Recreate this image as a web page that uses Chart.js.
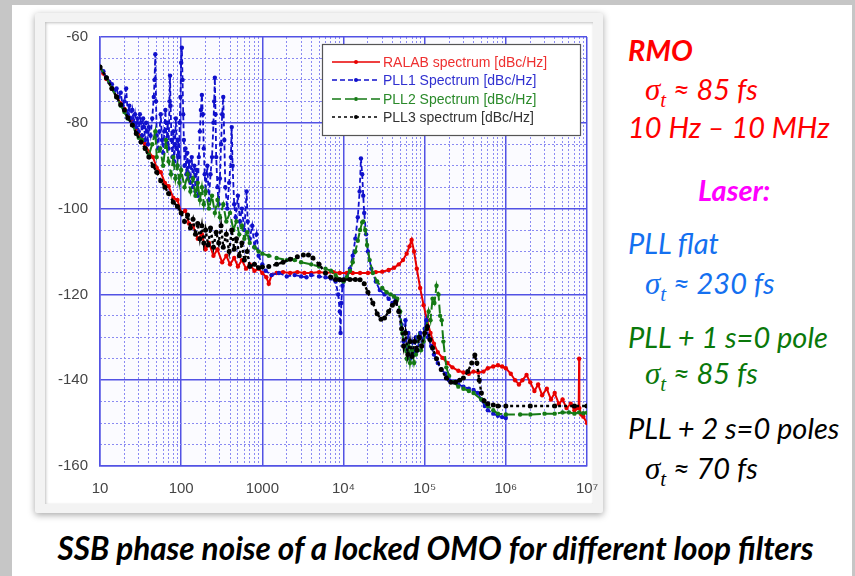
<!DOCTYPE html>
<html><head><meta charset="utf-8">
<script src="https://cdn.jsdelivr.net/npm/chart.js@4"></script>
<style>
html,body{margin:0;padding:0;}
body{width:855px;height:576px;position:relative;overflow:hidden;background:#fff;}
#bgTop{position:absolute;left:0;top:0;width:855px;height:5px;background:#c6c6c6;}
#bgLeft{position:absolute;left:0;top:0;width:12px;height:576px;background:#c6c6c6;}
#bgRight{position:absolute;right:0;top:0;width:3px;height:576px;background:#c6c6c6;}
#card{position:absolute;left:35px;top:13px;width:568px;height:500px;background:#f3f3f3;box-shadow:0 2px 7px rgba(0,0,0,0.35);border-radius:2px;}
#inner{position:absolute;left:45px;top:22px;width:548px;height:482px;background:#fff;box-shadow:inset 1px 1px 3px rgba(0,0,0,0.25);}
#chartBox{position:absolute;left:45px;top:22px;width:562px;height:482px;}
.note{position:absolute;font-family:Lato,'Open Sans',sans-serif;font-style:italic;font-size:29px;white-space:nowrap;line-height:26px;}
.sig{font-family:'Liberation Serif','DejaVu Serif',serif;font-style:italic;font-size:31px;}
.sub{font-family:'Liberation Serif','DejaVu Serif',serif;font-style:italic;font-size:21px;position:relative;top:7px;}
#caption{position:absolute;left:8px;width:855px;top:533px;text-align:center;font-family:Lato,'Open Sans',sans-serif;font-style:italic;font-weight:bold;font-size:31.5px;line-height:30px;color:#000;white-space:nowrap;}
</style>
</head>
<body>
<div id="bgTop"></div><div id="bgLeft"></div><div id="bgRight"></div>
<div id="card"></div>
<div id="inner"></div>
<div id="chartBox"><canvas id="c" width="562" height="482"></canvas></div>

<div class="note" style="left:628px;top:37px;color:#ff0000;font-weight:bold;">RMO</div>
<div class="note" style="left:645px;top:76px;color:#ff0000;"><span class="sig">σ</span><span class="sub">t</span> ≈ 85 fs</div>
<div class="note" style="left:628px;top:114px;color:#ff0000;">10 Hz – 10 MHz</div>
<div class="note" style="left:698px;top:177px;color:#ff00ff;font-weight:bold;">Laser:</div>
<div class="note" style="left:628px;top:230px;color:#1470f0;">PLL flat</div>
<div class="note" style="left:645px;top:270px;color:#1470f0;"><span class="sig">σ</span><span class="sub">t</span> ≈ 230 fs</div>
<div class="note" style="left:628px;top:324px;color:#0a780a;">PLL + 1 s=0 pole</div>
<div class="note" style="left:645px;top:360px;color:#0a780a;"><span class="sig">σ</span><span class="sub">t</span> ≈ 85 fs</div>
<div class="note" style="left:628px;top:415px;color:#000;">PLL + 2 s=0 poles</div>
<div class="note" style="left:645px;top:455px;color:#000;"><span class="sig">σ</span><span class="sub">t</span> ≈ 70 fs</div>
<div id="caption">SSB phase noise of a locked OMO for different loop filters</div>

<script>
// ---- data (frequency in Hz, SSB phase noise in dBc/Hz) ----
const seriesNames = ["RALAB spectrum [dBc/Hz]", "PLL1 Spectrum [dBc/Hz]", "PLL2 Spectrum [dBc/Hz]", "PLL3 spectrum [dBc/Hz]"];

const ralabFreq = [10,11,12,13,14,16,18,20,22,25,28,32,36,40,45,50,56,63,70,80,90,100,112,125,140,160,180,200,220,250,280,320,360,400,450,500,560,630,700,800,900,1000,1120,1200,1300,1500,1800,2200,2700,3300,4000,5000,6000,7500,9000,11000,13000,16000,20000,25000,30000,36000,42000,48000,54000,60000,65000,69000,74000,80000,88000,97000,107000,118000,130000,145000,166000,190000,220000,260000,300000,350000,400000,460000,530000,600000,700000,800000,900000,1000000,1150000,1300000,1450000,1600000,1800000,2000000,2250000,2500000,2800000,3200000,3600000,4000000,4500000,5000000,5600000,6300000,7000000,7500000,7900000,8000000,8050000,8500000,9000000,10000000];
const ralabDb = [-67,-68.5,-69.8,-70.5,-72,-73.8,-75.5,-76.8,-78.3,-79.6,-81.5,-83.2,-85,-86.8,-88,-90.5,-91.5,-94,-94.8,-97.5,-98,-101,-100.5,-103.5,-104,-107,-106,-109.5,-108,-111,-109.5,-112.5,-111,-113,-111.5,-113.5,-112,-114,-113,-114.5,-114,-115,-116,-117.5,-115.5,-115,-114.8,-115,-114.8,-115,-115,-114.8,-115,-114.8,-115,-115,-115,-115,-115,-114.8,-114.7,-114.3,-113.8,-113,-112,-110.5,-108.8,-107.3,-110,-114,-118.5,-122.5,-126,-129,-131.5,-133.5,-134.8,-136,-137,-137.8,-138.2,-138.5,-138,-138.2,-138,-137.2,-136.8,-136.5,-136.8,-137.2,-138.5,-140,-141,-140,-138.8,-140.5,-142.5,-141,-143.5,-142,-144.5,-143,-145.5,-144.5,-146.5,-145.5,-147,-146.5,-146.5,-135,-146.5,-148,-148.5,-150];

const pll1Freq = [10,11,12,13,14,15,16,17,18,19,20,21,22,23,24,25,26,27,28,29,30,31,32,33,34,35,36,37,38,39,40,42,44,46,47,48,49,50,52,54,56,58,60,62,64,66,68,70,72,73,74,76,78,80,82,84,86,88,90,92,94,96,98,100,102,104,106,108,110,113,116,119,122,125,130,135,140,145,150,155,160,165,170,175,180,185,190,195,200,210,220,230,240,250,255,260,265,270,280,290,300,310,320,330,340,350,370,390,410,420,430,450,470,500,530,560,600,640,660,700,750,800,850,900,1000,1100,1300,1600,2000,2500,3000,3500,4000,5000,6000,7000,8000,8600,9000,9200,9400,9700,10000,11000,12000,13000,14000,15000,15800,16400,17000,17500,18000,19000,20000,22000,25000,28000,32000,36000,40000,44000,48000,52000,55000,58000,60000,63000,66000,70000,74000,78000,82000,88000,95000,100000,105000,110000,120000,130000,145000,160000,180000,200000,230000,260000,300000,350000,400000,450000,500000,550000,600000,700000,800000,900000,1000000];
const pll1Db = [-67,-68,-69.5,-70.5,-71,-72.5,-72,-74,-73,-76,-75,-72,-78,-76,-79,-77,-80,-78,-81,-79,-82,-78,-80,-83,-79,-81,-84,-80,-82,-85,-81,-83,-79,-74,-70,-64,-75,-83,-86,-82,-78,-84,-87,-82,-77,-85,-80,-86,-75,-69,-76,-84,-88,-82,-89,-85,-79,-86,-90,-84,-88,-80,-74,-66,-62.5,-70,-78,-84,-90,-86,-92,-87,-93,-89,-94,-88,-95,-90,-96,-91,-97,-88,-82,-77,-73.5,-78,-86,-92,-96,-90,-98,-92,-88,-80,-75,-69.5,-78,-88,-95,-99,-93,-85,-78,-74,-84,-95,-100,-94,-88,-81,-90,-99,-102,-97,-103,-100,-105,-96,-103,-107,-104,-109,-106,-111,-113,-114.5,-115.5,-115,-115.8,-115.5,-115.8,-116,-115.5,-115.8,-116,-116.3,-117,-120,-124,-129,-122,-118,-117,-116,-114,-111,-107,-102,-96,-88.3,-92,-97,-101,-106,-110,-114,-117,-119,-120,-121,-122,-121,-124,-127,-131,-126,-133,-129,-135,-131,-134,-130,-133,-129,-131,-128,-126,-130,-132,-134,-136,-137.5,-138.5,-140,-140.5,-141,-141.5,-142,-142.3,-143,-144.5,-146,-147,-147.8,-148.3,-148.6,-148.8];

const pll2Freq = [10,12,14,16,18,20,22,25,28,30,33,36,40,44,48,50,55,60,65,70,75,80,85,90,95,100,110,120,130,140,150,160,170,180,190,200,220,240,260,280,300,330,360,400,440,480,520,560,600,650,700,800,900,1000,1200,1500,2000,2500,3000,4000,5000,6000,7000,8000,9000,10000,11000,12000,13000,14000,15000,16000,17000,17500,18500,19500,21000,23000,26000,30000,34000,38000,42000,46000,50000,53000,56000,60000,63000,66000,70000,74000,78000,84000,90000,97000,105000,112000,118000,125000,132000,140000,148000,155000,162000,170000,185000,200000,230000,260000,300000,350000,400000,500000,600000,700000,800000,1000000,1500000,2000000,3000000,4000000,5000000,6000000,7000000,8000000,9000000,10000000];
const pll2Db = [-67,-69.5,-72,-74,-76,-77.5,-79,-80.5,-82.5,-83.5,-84,-86,-87.5,-85,-82,-88,-86,-90,-84,-89,-92,-88,-93,-90,-94,-91,-95,-92,-96,-93,-97,-94,-98,-95,-99,-96,-100,-97,-101,-98,-102,-99,-103,-101,-105,-103,-106,-104,-107,-105.5,-108,-109,-110,-110.5,-111,-111.5,-112,-112,-112.5,-113,-113.5,-114,-114.5,-115.5,-116.5,-117,-116,-114.5,-112.5,-110,-107.5,-105,-103.2,-103,-105,-108.5,-112,-115,-117,-118.5,-119.5,-120,-120.5,-121,-124,-129,-132,-135,-132,-136,-133,-136,-134,-130,-133,-131,-128,-124,-126,-121,-122,-118,-120,-125,-126,-131,-137,-139,-140.5,-141.5,-142,-142.5,-143,-144.5,-146,-147,-147.8,-148,-148,-148,-147.8,-147.8,-147.5,-147.5,-147.8,-147.5,-147.7,-147.6];

const pll3Freq = [10,12,14,16,18,20,22,25,28,32,36,40,45,50,56,63,70,80,90,100,110,120,130,140,150,160,170,180,190,200,215,230,250,270,290,310,330,360,390,420,450,480,520,560,600,650,700,800,900,1000,1200,1500,1800,2200,2700,3200,3700,4200,5000,6000,7000,8000,9000,10000,12000,14000,16000,18000,20000,23000,26000,29000,32000,36000,40000,44000,48000,52000,55000,58000,62000,66000,70000,75000,80000,86000,92000,100000,108000,116000,125000,140000,160000,185000,210000,240000,270000,300000,340000,380000,415000,440000,470000,500000,540000,600000,700000,800000,1000000,2000000,4000000,7000000,10000000];
const pll3Db = [-67,-69.5,-72,-74,-75.8,-77,-78.8,-80.5,-82.5,-84.5,-86,-88,-90,-91.5,-93.5,-95,-96.5,-98.5,-99.5,-101,-103,-101.5,-104.5,-102.5,-106,-103.5,-107,-104,-108,-105,-108.5,-104.5,-109,-105.5,-108,-104,-109,-106,-110,-105,-109.5,-107,-111,-108,-112,-110,-113.5,-113,-113.8,-113.6,-113.5,-113,-112.5,-111.8,-111.2,-110.8,-110.8,-111.5,-113,-115,-116,-116.5,-116.6,-116.6,-116.5,-116.5,-116.6,-117.5,-119.5,-122,-124.5,-125.8,-125.5,-124,-122.5,-121.8,-124,-128,-132,-129,-134,-131,-134.5,-131,-133,-130,-132,-129,-127.5,-130.5,-132.5,-135,-137.5,-139.5,-140.5,-140.5,-140,-139.5,-138,-136,-134.1,-136,-140,-143,-144.8,-145.5,-145.8,-146,-146,-146,-146,-146,-146];

const xMajorTicks = [10,100,1000,1e4,1e5,1e6,1e7];
const xTickLabels = ["10","100","1000","10\u2074","10\u2075","10\u2076","10\u2077"];
const yMajorTicks = [-160,-140,-120,-100,-80,-60];
const yTickLabels = ["-160","-140","-120","-100","-80","-60"];

const colors = ["#e80000","#1010cc","#157a15","#000000"];
const legendTextColors = ["#ee3030","#3030d0","#2a8a2a","#333333"];
const dashes = [[],[5,3],[9,4],[3,3]];

// minor grid positions
const xMinorTicks = [];
for (let d = 10; d < 1e7; d *= 10) { for (let m = 2; m <= 9; m++) xMinorTicks.push(d * m); }
const yMinorTicks = [];
for (let v = -155; v < -60; v += 5) { if (v % 20 !== 0) yMinorTicks.push(v); }

function pts(f, d) { return f.map((x, i) => ({ x: x, y: d[i] })); }

const legendPlugin = {
  id: 'boxLegend',
  afterDatasetsDraw(chart) {
    const ctx = chart.ctx, a = chart.chartArea;
    const x0 = a.right - 265, y0 = a.top + 7, w = 258, h = 91;
    ctx.save();
    ctx.fillStyle = '#ffffff';
    ctx.fillRect(x0, y0, w, h);
    ctx.strokeStyle = '#555555';
    ctx.lineWidth = 1.2;
    ctx.strokeRect(x0 + 0.5, y0 + 0.5, w, h);
    ctx.font = '14px "Liberation Sans", Arial, sans-serif';
    ctx.textBaseline = 'middle';
    const rows = [18, 36, 55, 73];
    chart.data.datasets.forEach((ds, i) => {
      const yy = y0 + rows[i];
      ctx.strokeStyle = ds.borderColor;
      ctx.lineWidth = 1.5;
      ctx.setLineDash(dashes[i]);
      ctx.beginPath(); ctx.moveTo(x0 + 10, yy); ctx.lineTo(x0 + 58, yy); ctx.stroke();
      ctx.setLineDash([]);
      ctx.fillStyle = ds.borderColor;
      ctx.beginPath(); ctx.arc(x0 + 34, yy, 2, 0, Math.PI * 2); ctx.fill();
      ctx.fillStyle = legendTextColors[i];
      ctx.fillText(ds.label, x0 + 61, yy + 1);
    });
    ctx.restore();
  }
};

const bgPlugin = {
  id: 'plotBg',
  beforeDraw(chart) {
    const ctx = chart.ctx, a = chart.chartArea;
    ctx.save(); ctx.fillStyle = '#fbfbff';
    ctx.fillRect(a.left, a.top, a.right - a.left, a.bottom - a.top);
    ctx.restore();
  }
};

const seriesData = [pts(ralabFreq, ralabDb), pts(pll1Freq, pll1Db), pts(pll2Freq, pll2Db), pts(pll3Freq, pll3Db)];
const orders = [4, 3, 2, 1];
const radii = [2.2, 2.2, 2.2, 2.5];
const widths = [2, 1.8, 2, 2.4];

function noPadX(s) { s.paddingLeft = 0; s.paddingRight = 0; }
function noPadY(s) { s.paddingTop = 0; s.paddingBottom = 0; }

new Chart(document.getElementById('c'), {
  type: 'line',
  data: {
    datasets: seriesData.map((d, i) => ({
      label: seriesNames[i],
      data: d,
      borderColor: colors[i],
      backgroundColor: colors[i],
      pointBackgroundColor: colors[i],
      pointBorderColor: colors[i],
      pointRadius: radii[i],
      pointBorderWidth: 0,
      borderWidth: widths[i],
      borderDash: dashes[i],
      tension: 0,
      fill: false,
      order: orders[i],
      xAxisID: 'x',
      yAxisID: 'y'
    }))
  },
  options: {
    responsive: false,
    animation: false,
    events: [],
    layout: { padding: { left: 0, right: 20, top: 15, bottom: 0 } },
    plugins: { legend: { display: false }, tooltip: { enabled: false } },
    scales: {
      x: {
        type: 'logarithmic', position: 'bottom', min: 10, max: 1e7,
        afterBuildTicks: (s) => { s.ticks = xMajorTicks.map(v => ({ value: v })); },
        afterFit: (s) => { s.height = 38; noPadX(s); },
        grid: { color: '#5252e4', lineWidth: 1.5, drawTicks: false },
        border: { display: true, color: '#5252e4', width: 1.5 },
        ticks: {
          autoSkip: false, maxRotation: 0, padding: 14, color: '#454545',
          font: { family: '"Liberation Sans", Arial, sans-serif', size: 15 },
          callback: (v) => { const k = xMajorTicks.indexOf(v); return k >= 0 ? xTickLabels[k] : ''; }
        }
      },
      xm: {
        type: 'logarithmic', position: 'bottom', min: 10, max: 1e7,
        afterBuildTicks: (s) => { s.ticks = xMinorTicks.map(v => ({ value: v })); },
        afterFit: (s) => { s.height = 0; noPadX(s); },
        grid: { color: '#8a8af2', lineWidth: 1, drawTicks: false },
        border: { display: false, dash: [2, 2] },
        ticks: { display: false }
      },
      y: {
        type: 'linear', position: 'left', min: -160, max: -60,
        afterBuildTicks: (s) => { s.ticks = yMajorTicks.map(v => ({ value: v })); },
        afterFit: (s) => { s.width = 55; noPadY(s); },
        grid: { color: '#5252e4', lineWidth: 1.5, drawTicks: false },
        border: { display: true, color: '#5252e4', width: 1.5 },
        ticks: {
          padding: 12, color: '#454545',
          font: { family: '"Liberation Sans", Arial, sans-serif', size: 15 },
          callback: (v) => { const k = yMajorTicks.indexOf(v); return k >= 0 ? yTickLabels[k] : ''; }
        }
      },
      ym: {
        type: 'linear', position: 'left', min: -160, max: -60,
        afterBuildTicks: (s) => { s.ticks = yMinorTicks.map(v => ({ value: v })); },
        afterFit: (s) => { s.width = 0; noPadY(s); },
        grid: { color: '#8a8af2', lineWidth: 1, drawTicks: false },
        border: { display: false, dash: [2, 2] },
        ticks: { display: false }
      }
    }
  },
  plugins: [bgPlugin, legendPlugin]
});
</script>
</body></html>
